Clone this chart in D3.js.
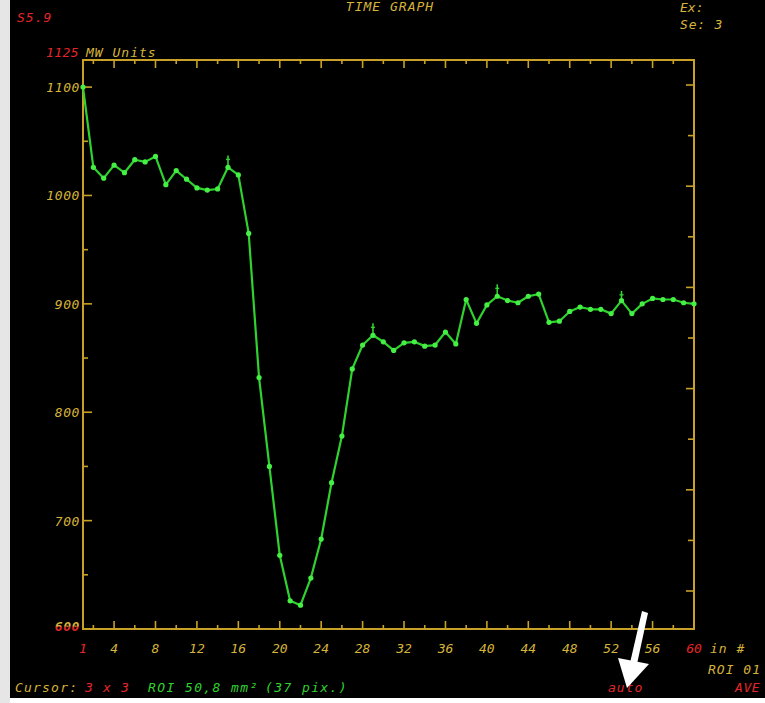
<!DOCTYPE html>
<html>
<head>
<meta charset="utf-8">
<script src="https://cdn.jsdelivr.net/npm/d3@7"></script>
<style>
  html, body { margin: 0; padding: 0; background: #ffffff; }
  svg { display: block; }
  text { font-family: "DejaVu Sans Mono", monospace; font-style: italic; font-size: 13px; }
</style>
</head>
<body>
<svg id="chart" width="765" height="703"></svg>
<script>
// Frame numbers (image #) along the time axis
const frames = d3.range(1, 61);
// Mean ROI signal, MW units, one value per frame
const signal = [
  1100, 1026, 1016, 1028, 1021, 1033, 1031, 1036, 1010, 1023,
  1015, 1007, 1005, 1006, 1026, 1019, 965, 832, 750, 668,
  626, 622, 647, 683, 735, 778, 840, 862, 871, 865,
  857, 864, 865, 861, 862, 874, 863, 904, 882, 899,
  907, 903, 901, 907, 909, 883, 884, 893, 897, 895,
  895, 891, 903, 891, 900, 905, 904, 904, 901, 900
];
// Frames flagged with a marker stroke, and the value its stroke reaches
const markerFrames = [15, 29, 41, 53];
const markerTops = [1037, 882, 918, 912];

// Axis tick values and labels
const xLabelTicks = [1, 4, 8, 12, 16, 20, 24, 28, 32, 36, 40, 44, 48, 52, 56, 60];
const xMinorTicks = d3.range(2, 60, 2);
const yLabelTicks = [700, 800, 900, 1000, 1100];
const yMinorTicks = [650, 750, 850, 950, 1050];
const yMax = 1125, yMin = 600;
const rightTickSteps = d3.range(0, 11);

const gold = "#c9a126";
const textGold = "#d6b43a";
const red = "#e4262a";
const green = "#2fd22f";
const dotGreen = "#45f045";

const svg = d3.select("#chart");

// two-tone fill for the scale minimum label
const grad = svg.append("defs").append("linearGradient")
  .attr("id", "minLabel").attr("x1", 0).attr("y1", 0).attr("x2", 0).attr("y2", 1);
grad.append("stop").attr("offset", "0.45").attr("stop-color", textGold);
grad.append("stop").attr("offset", "0.55").attr("stop-color", red);

// screen background
svg.append("rect").attr("x", 0).attr("y", 0).attr("width", 765).attr("height", 703).attr("fill", "#ffffff");
svg.append("rect").attr("x", 0).attr("y", 0).attr("width", 10).attr("height", 703).attr("fill", "#e6e6e6");
svg.append("rect").attr("x", 10).attr("y", 0).attr("width", 755).attr("height", 698).attr("fill", "#000000");

const plotL = 83, plotR = 694, plotT = 60, plotB = 629;
const x = d3.scaleLinear().domain([1, 60]).range([plotL, plotR]);
const y = d3.scaleLinear().domain([yMin, yMax]).range([plotB, plotT]);
const yRight = d3.scaleLinear().domain([0, 10]).range([591, 85]);

// frame
svg.append("rect")
  .attr("x", plotL).attr("y", plotT)
  .attr("width", plotR - plotL).attr("height", plotB - plotT)
  .attr("fill", "none").attr("stroke", gold).attr("stroke-width", 2);

const tickG = svg.append("g").attr("stroke", gold).attr("stroke-width", 1.6);

// top and bottom ticks every 2 frames, longer every 4
xMinorTicks.forEach(v => {
  const len = v % 4 === 0 ? 8 : 4;
  tickG.append("line").attr("x1", x(v)).attr("x2", x(v)).attr("y1", plotT).attr("y2", plotT + len);
  tickG.append("line").attr("x1", x(v)).attr("x2", x(v)).attr("y1", plotB).attr("y2", plotB - len);
});

// left ticks
[yMin].concat(yLabelTicks).forEach(v => {
  tickG.append("line").attr("x1", plotL).attr("x2", plotL + 9).attr("y1", y(v)).attr("y2", y(v));
});
yMinorTicks.forEach(v => {
  tickG.append("line").attr("x1", plotL).attr("x2", plotL + 5).attr("y1", y(v)).attr("y2", y(v));
});

// right ticks
rightTickSteps.forEach(v => {
  tickG.append("line").attr("x1", plotR).attr("x2", plotR - (v % 2 === 0 ? 8 : 6))
    .attr("y1", yRight(v)).attr("y2", yRight(v));
});

// y labels
yLabelTicks.forEach(v => {
  svg.append("text")
    .attr("x", plotL - 3).attr("y", y(v) + 5)
    .attr("text-anchor", "end")
    .attr("letter-spacing", "0.6")
    .attr("fill", textGold)
    .text(v);
});
svg.append("text")
  .attr("x", plotL - 3).attr("y", y(yMin) + 2)
  .attr("text-anchor", "end")
  .attr("letter-spacing", "0.6")
  .attr("font-weight", "bold")
  .attr("fill", "url(#minLabel)")
  .text(yMin);

// x labels
xLabelTicks.forEach(v => {
  svg.append("text")
    .attr("x", x(v)).attr("y", 653)
    .attr("text-anchor", "middle")
    .attr("fill", (v === 1 || v === 60) ? red : textGold)
    .text(v);
});
svg.append("text").attr("x", 710).attr("y", 653).attr("fill", textGold).attr("letter-spacing", "1").text("in #");

// data line
const line = d3.line().x((d, i) => x(frames[i])).y(d => y(d));
svg.append("path")
  .datum(signal)
  .attr("d", line)
  .attr("fill", "none")
  .attr("stroke", green)
  .attr("stroke-width", 2.2)
  .attr("stroke-linejoin", "round");

// marker strokes
markerFrames.forEach((f, i) => {
  svg.append("line")
    .attr("x1", x(f)).attr("x2", x(f))
    .attr("y1", y(signal[f - 1])).attr("y2", y(markerTops[i]))
    .attr("stroke", green).attr("stroke-width", 1.6);
  svg.append("line")
    .attr("x1", x(f) - 2).attr("x2", x(f) + 2)
    .attr("y1", y(markerTops[i]) + 4).attr("y2", y(markerTops[i]) + 4)
    .attr("stroke", green).attr("stroke-width", 1.4);
});

// data points
svg.append("g").selectAll("circle")
  .data(signal)
  .join("circle")
  .attr("cx", (d, i) => x(frames[i]))
  .attr("cy", d => y(d))
  .attr("r", 2.6)
  .attr("fill", dotGreen);

// header texts
svg.append("text").attr("x", 390).attr("y", 11).attr("text-anchor", "middle")
  .attr("fill", textGold).attr("letter-spacing", "1").text("TIME GRAPH");
svg.append("text").attr("x", 17).attr("y", 22).attr("fill", red).attr("letter-spacing", "1").text("S5.9");
svg.append("text").attr("x", 680).attr("y", 12).attr("fill", textGold).text("Ex:");
svg.append("text").attr("x", 680).attr("y", 29).attr("fill", textGold).attr("letter-spacing", "0.8").text("Se: 3");
svg.append("text").attr("x", 46).attr("y", 57).attr("fill", red).attr("letter-spacing", "0.4").text(yMax);
svg.append("text").attr("x", 86).attr("y", 57).attr("fill", textGold).attr("letter-spacing", "1").text("MW Units");

// footer texts
svg.append("text").attr("x", 708).attr("y", 674).attr("fill", textGold).attr("letter-spacing", "1").text("ROI 01");
svg.append("text").attr("x", 15).attr("y", 692).attr("fill", textGold).attr("letter-spacing", "1.2").text("Cursor:");
svg.append("text").attr("x", 85).attr("y", 692).attr("fill", red).attr("letter-spacing", "1.2").text("3 x 3");
svg.append("text").attr("x", 148).attr("y", 692).attr("fill", green).attr("letter-spacing", "1.4").text("ROI 50,8 mm²");
svg.append("text").attr("x", 265).attr("y", 692).attr("fill", green).attr("letter-spacing", "1.4").text("(37 pix.)");
svg.append("text").attr("x", 608).attr("y", 692).attr("fill", red).attr("letter-spacing", "1").text("auto");
svg.append("text").attr("x", 735).attr("y", 692).attr("fill", red).attr("letter-spacing", "0.6").text("AVE");

// pointer arrow
svg.append("path")
  .attr("d", "M642,611 L648,613 L637,664 L630,663 Z")
  .attr("fill", "#ffffff");
svg.append("path")
  .attr("d", "M618,658 L649,664 L627,688 Z")
  .attr("fill", "#ffffff");
</script>
</body>
</html>
